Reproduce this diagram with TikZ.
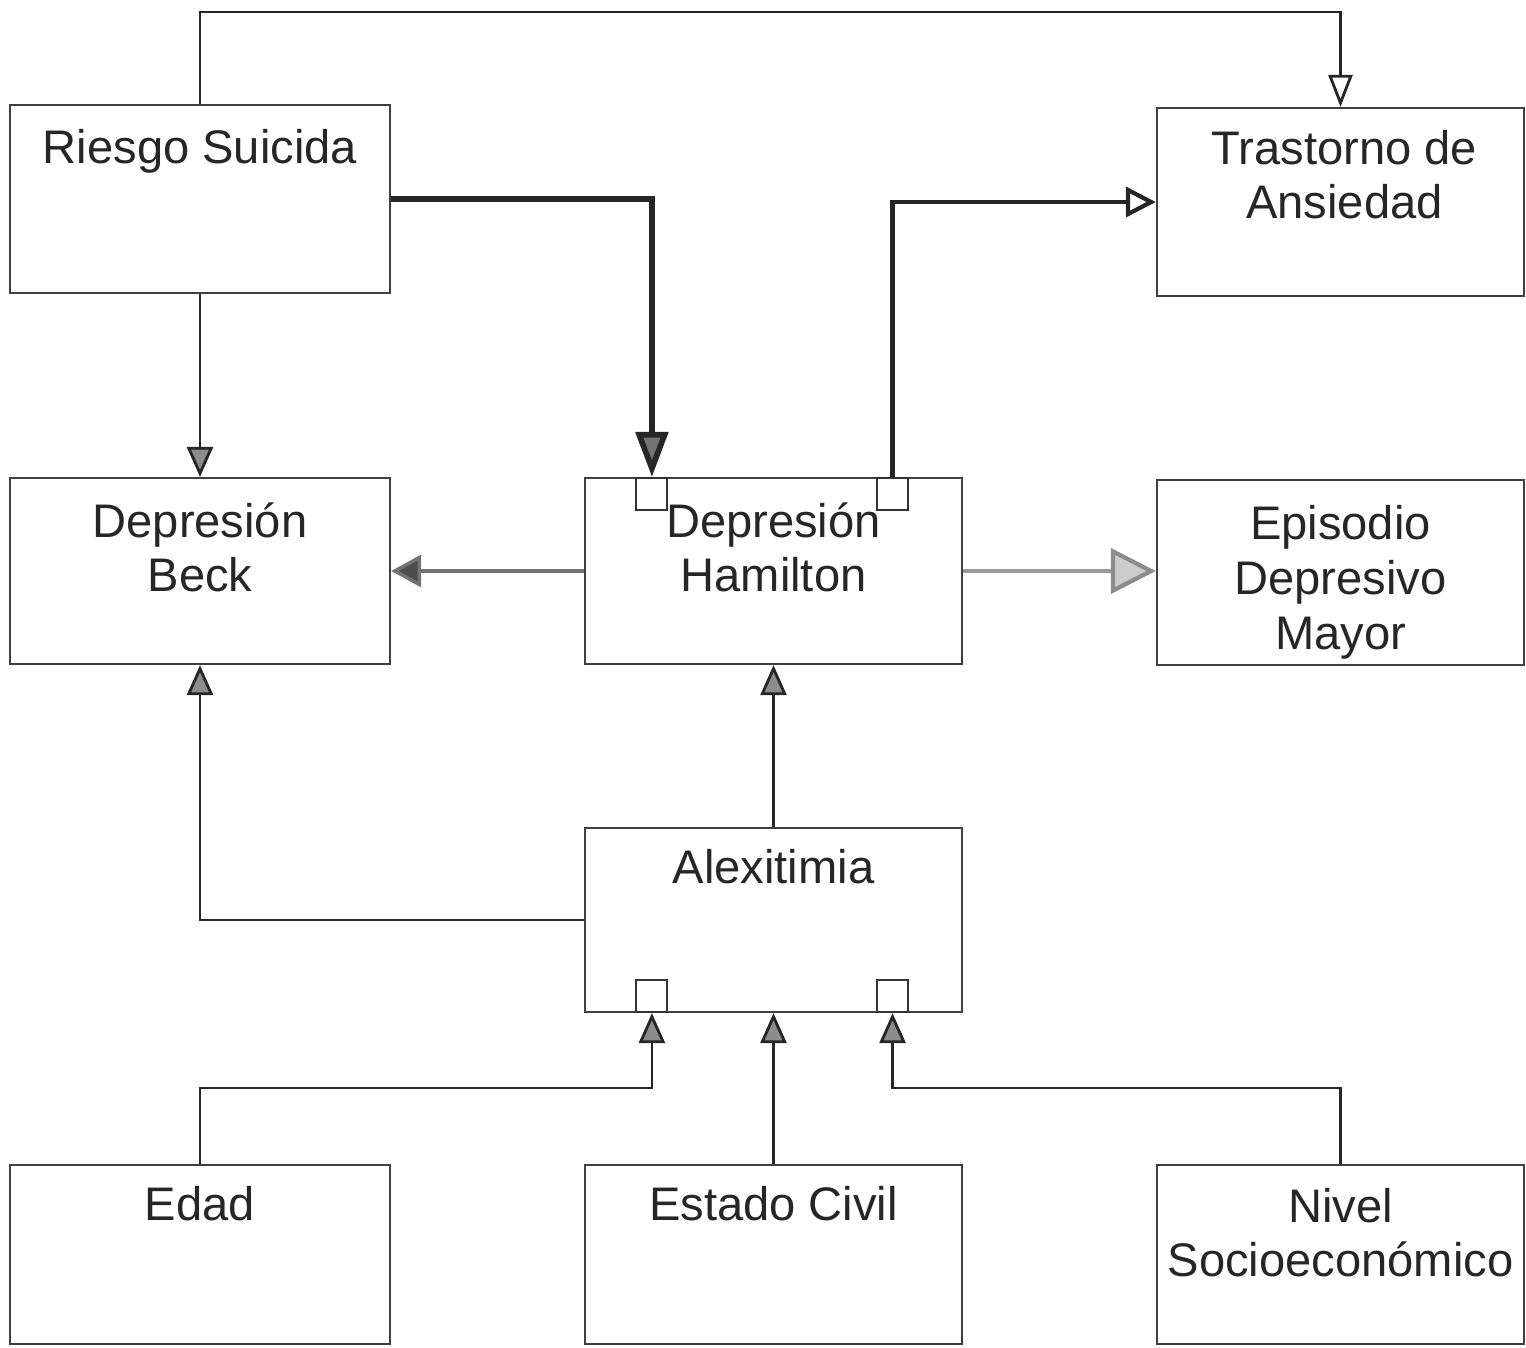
\documentclass[tikz,border=0pt]{standalone}
\usepackage{fontspec}
\setmainfont{Liberation Sans}
\usetikzlibrary{arrows.meta,positioning}

\begin{document}
\begin{tikzpicture}[x=0.01cm,y=-0.01cm,
        box/.style={draw=black!75,line width=0.6pt,rectangle,inner sep=0pt},
        lbl/.style={anchor=base,align=center,inner sep=0pt,text=black!85,
                font=\fontsize{13.4}{15.6}\selectfont},
        port/.style={draw=black!80,line width=0.6pt,inner sep=0pt,
                minimum width=0.31cm,minimum height=0.32cm},
        link/.style={draw=black!85,line width=0.8pt},
        tip/.style={-{Triangle[length=0.3cm,width=0.26cm,fill=black!45]}},
        opentip/.style={-{Triangle[open,length=0.32cm,width=0.24cm]}}]
    \useasboundingbox (0,0) rectangle (1526,1347);

    % cajas
    \begin{scope}[every node/.style={box}]
        \node (rs) at (200,199) [minimum width=3.8cm,minimum height=1.88cm]{};
        \node (ta) at (1340.5,202) [minimum width=3.67cm,minimum height=1.88cm]{};
        \node (beck) at (200,571) [minimum width=3.8cm,minimum height=1.86cm]{};
        \node (ham) at (773.5,571) [minimum width=3.77cm,minimum height=1.86cm]{};
        \node (edm) at (1340.5,572.5) [minimum width=3.67cm,minimum height=1.85cm]{};
        \node (alex) at (773.5,920) [minimum width=3.77cm,minimum height=1.84cm]{};
        \node (edad) at (200,1254.5) [minimum width=3.8cm,minimum height=1.79cm]{};
        \node (ec) at (773.5,1254.5) [minimum width=3.77cm,minimum height=1.79cm]{};
        \node (nse) at (1340.5,1254.5) [minimum width=3.67cm,minimum height=1.79cm]{};
    \end{scope}

    % textos (base = ultima linea)
    \node[lbl] (rs-t) at ([yshift=-0.6cm]rs.north) {Riesgo Suicida};
    \node[lbl] (ta-t) at ([xshift=0.04cm,yshift=-1.12cm]ta.north) {Trastorno de\\Ansiedad};
    \node[lbl] (beck-t) at ([yshift=-1.15cm]beck.north) {Depresión\\Beck};
    \node[lbl] (ham-t) at ([yshift=-1.15cm]ham.north) {Depresión\\Hamilton};
    \node[lbl] (edm-t) at ([yshift=-1.70cm]edm.north) {Episodio\\Depresivo\\Mayor};
    \node[lbl] (alex-t) at ([yshift=-0.57cm]alex.north) {Alexitimia};
    \node[lbl] (edad-t) at ([yshift=-0.57cm]edad.north) {Edad};
    \node[lbl] (ec-t) at ([yshift=-0.57cm]ec.north) {Estado Civil};
    \node[lbl] (nse-t) at ([yshift=-1.13cm]nse.north) {Nivel\\Socioeconómico};

    % puertos
    \node[port,anchor=north] (p1) at ([xshift=-1.215cm]ham.north) {};
    \node[port,anchor=north] (p2) at ([xshift=1.19cm]ham.north) {};
    \node[port,anchor=south] (p3) at ([xshift=-1.215cm]alex.south) {};
    \node[port,anchor=south] (p4) at ([xshift=1.19cm]alex.south) {};

    \coordinate (c1) at (700,12);
    \coordinate (c2) at (400,1088);
    \coordinate (c3) at (1100,1088);

    % conexiones
    \draw[link,opentip] (rs.north) |- (c1) -| (ta.north);
    \draw[link,line width=1.6pt,-{Triangle[length=0.45cm,width=0.32cm,fill=black!55]}]
        (rs.east) -| (p1.north);
    \draw[link,line width=1.2pt,-{Triangle[open,length=0.3cm,width=0.3cm]}]
        (p2.north) |- (ta.west);
    \draw[link,tip] (rs.south) -- (beck.north);
    \draw[link,draw=black!55,line width=1pt,-{Triangle[length=0.3cm,width=0.32cm,fill=black!70]}]
        (ham.west) -- (beck.east);
    \draw[link,draw=black!40,line width=1.2pt,-{Triangle[length=0.45cm,width=0.45cm,fill=black!20,color=black!45]}]
        (ham.east) -- (ham.east -| edm.west);
    \draw[link,tip] (alex.north) -- (ham.south);
    \draw[link,tip] (alex.west) -| (beck.south);
    \draw[link,tip] (edad.north) |- (c2) -| (p3.south);
    \draw[link,tip] (ec.north) -- (alex.south);
    \draw[link,tip] (nse.north) |- (c3) -| (p4.south);
\end{tikzpicture}
\end{document}
